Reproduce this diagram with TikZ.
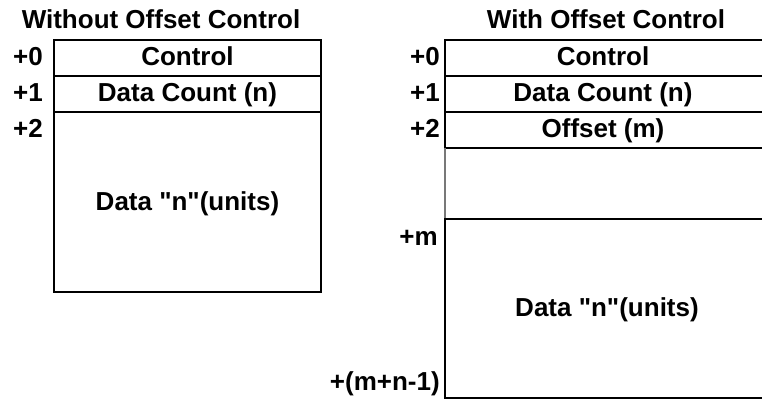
\documentclass[tikz,border=0pt]{standalone}
\usepackage{fontspec}
\setmainfont{Liberation Sans}
\usetikzlibrary{positioning,calc}
\definecolor{mapink}{RGB}{0,0,0}
\definecolor{mapgrey}{RGB}{120,120,120}

\begin{document}
\begin{tikzpicture}[x=0.75pt,y=-0.75pt, every node/.style={font=\fontsize{19.5}{22}\selectfont\bfseries,inner sep=0pt}]
\useasboundingbox (0,0) rectangle (762,400);
\clip (0,0) rectangle (762,400);
% left layout: without offset
\node[anchor=base] (titleA) at (161,28) {Without Offset Control};
\draw[mapink,line width=1.6pt] (54,40) rectangle (321,292);
\draw[mapink,line width=1.6pt] (54,76) -- (321,76);
\draw[mapink,line width=1.6pt] (54,112) -- (321,112);
\node[anchor=base] (ctlA) at (187.5,65) {Control};
\node[anchor=base] (cntA) at (187.5,101) {Data Count (n)};
\node[anchor=base] (dataA) at (187.5,210) {Data \textquotedbl n\textquotedbl(units)};
\node[anchor=base east] (offA0) at (43,65) {+0};
\node[anchor=base east] (offA1) at (43,101) {+1};
\node[anchor=base east] (offA2) at (43,137) {+2};
% right layout: with offset, runs off the right edge
\node[anchor=base] (titleB) at (606,28) {With Offset Control};
\draw[mapink,line width=1.6pt] (770,40) -- (445,40) -- (445,148);
\draw[mapink,line width=1.6pt] (445,76) -- (770,76);
\draw[mapink,line width=1.6pt] (445,112) -- (770,112);
\draw[mapink,line width=1.6pt] (445,148) -- (770,148);
\draw[mapgrey,line width=1.5pt] (445,148) -- (445,219);
\draw[mapink,line width=1.4pt] (770,219) -- (445,219) -- (445,398) -- (770,398);
\node[anchor=base] (ctlB) at (603,65) {Control};
\node[anchor=base] (cntB) at (603,101) {Data Count (n)};
\node[anchor=base] (offsB) at (603,137) {Offset (m)};
\node[anchor=base] (dataB) at (607,316) {Data \textquotedbl n\textquotedbl(units)};
\node[anchor=base east] (offB0) at (440,65) {+0};
\node[anchor=base east] (offB1) at (440,101) {+1};
\node[anchor=base east] (offB2) at (440,137) {+2};
\node[anchor=base east] (offBm) at (438,245) {+m};
\node[anchor=base east] (offBe) at (440,390) {+(m+n-1)};
\end{tikzpicture}
\end{document}
